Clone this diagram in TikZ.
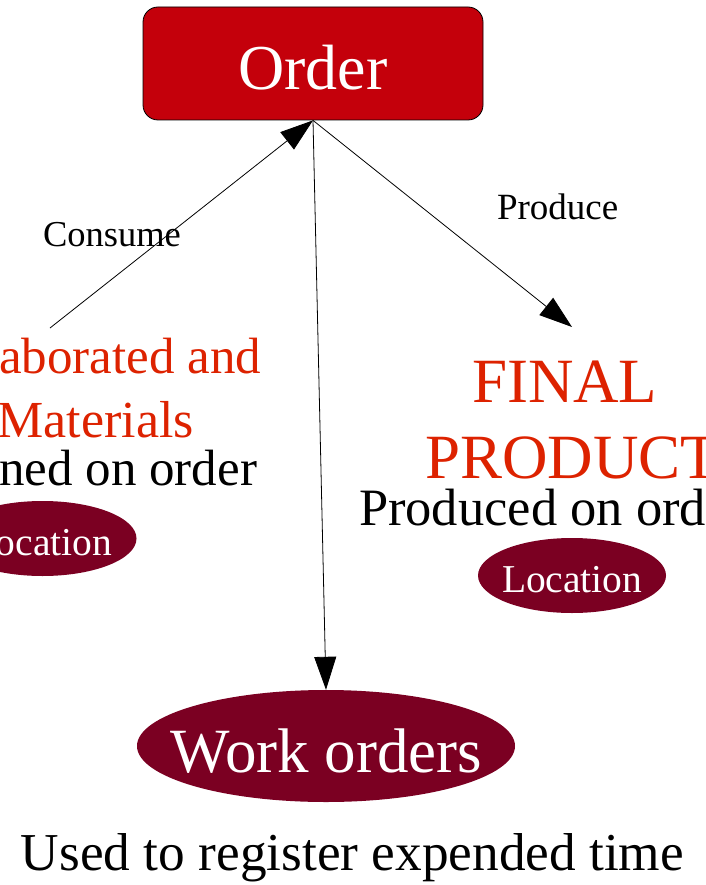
\documentclass[tikz,border=0pt]{standalone}
\usepackage{fontspec}
\setmainfont{Liberation Serif}
\usetikzlibrary{arrows.meta,shapes.geometric}
\definecolor{ordred}{RGB}{196,0,11}
\definecolor{maroon}{RGB}{123,0,34}
\definecolor{txtred}{RGB}{221,34,0}
\tikzset{
  orderbox/.style={draw=black,line width=0.8pt,fill=ordred,rounded corners=15pt,minimum width=340pt,minimum height=113pt,inner sep=0pt},
  locell/.style={ellipse,fill=maroon,inner sep=0pt},
  txt/.style={inner sep=0pt,outer sep=0pt},
  conn/.style={line width=0.8pt,-{Triangle[length=33pt,width=22pt]}},
}
\newcommand{\fs}[1]{\fontsize{#1}{#1}\selectfont}
\begin{document}
\begin{tikzpicture}[x=1pt,y=-1pt]
\useasboundingbox (0,0) rectangle (705,885);
\clip (0,0) rectangle (705,885);
% Order
\node[orderbox] (order) at (313,63.5) {};
\node[txt,anchor=base,text=white,font=\fs{64}] (ordertxt) at (313,90) {Order};
% Left group
\node[txt,anchor=base east,text=txtred,font=\fs{51}] (semi) at (261,373) {Semi-elaborated and};
\node[txt,anchor=base east,text=txtred,font=\fs{52}] (raw) at (194,437) {Raw Materials};
\node[txt,anchor=base east,font=\fs{51}] (planned) at (257,485) {Planned on order};
\node[locell,minimum width=188pt,minimum height=75pt] (locl) at (42.5,538.5) {};
\node[txt,anchor=base east,text=white,font=\fs{39.5}] (locltxt) at (112,555) {Location};
\coordinate (consstart) at (50,328);
% Right group
\node[txt,anchor=base west,text=txtred,font=\fs{63}] (final) at (472,402) {FINAL};
\node[txt,anchor=base west,text=txtred,font=\fs{63}] (product) at (425,478) {PRODUCT};
\node[txt,anchor=base west,font=\fs{52.5}] (produced) at (359,525) {Produced on order};
\node[locell,minimum width=188pt,minimum height=75pt] (locr) at (572,575.5) {};
\node[txt,anchor=base west,text=white,font=\fs{39.5}] (locrtxt) at (502,592) {Location};
\coordinate (prodend) at (572,327);
% Work orders
\node[locell,minimum width=378pt,minimum height=112pt] (work) at (326,746) {};
\node[txt,anchor=base,text=white,font=\fs{63}] (worktxt) at (326.5,772) {Work orders};
\node[txt,anchor=base,font=\fs{53.3}] (used) at (352.5,870) {Used to register expended time};
% Edge labels
\node[txt,anchor=base west,font=\fs{36.5}] (consume) at (43,246) {Consume};
\node[txt,anchor=base west,font=\fs{37}] (produce) at (497,219) {Produce};
% Connectors
\draw[conn] (consstart) -- (order.south);
\draw[conn] (order.south) -- (prodend);
\draw[conn] (order.south) -- (work.north);
\end{tikzpicture}
\end{document}
